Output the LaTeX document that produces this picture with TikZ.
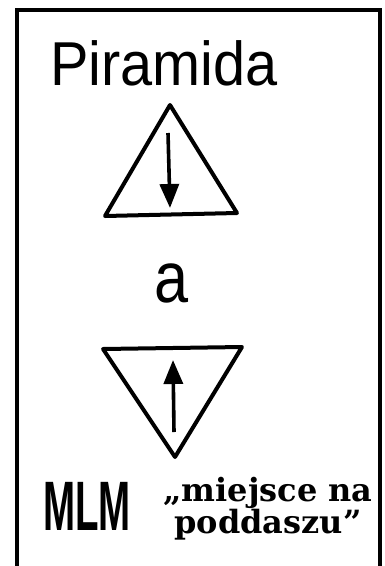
\documentclass[tikz,border=0pt]{standalone}
\usepackage{fontspec}
\setmainfont{Liberation Sans}
\newfontfamily\slabfont{DejaVu Serif}
\usetikzlibrary{arrows.meta}

\begin{document}
\begin{tikzpicture}[
    x=1pt, y=-1pt,
    frame/.style={line width=3.6pt},
    tri/.style={line width=4pt, line join=round},
    arrow/.style={line width=3.6pt, -{Triangle[length=24pt, width=19pt]}},
    hand/.style={inner sep=0pt, font=\fontsize{62}{62}\selectfont},
    slab/.style={inner sep=0pt, align=center, font=\slabfont\bfseries\fontsize{32}{31}\selectfont}
  ]
  \useasboundingbox (0,0) rectangle (385,566);

  % Frame (open at the bottom)
  \draw[frame] (17,566) -- (17,10) -- (380,10) -- (380,566);

  % Nodes
  \node[hand, anchor=base west, xscale=0.93] (title) at (50,85) {Piramida};
  \node[hand, anchor=base, xscale=0.85, font=\fontsize{72}{72}\selectfont] (and) at (172,302) {a};
  \node[hand, anchor=base west, xscale=0.55, font=\bfseries\fontsize{70}{70}\selectfont] (mlm) at (43,530) {MLM};
  \node[slab, anchor=north] (attic) at (268,477) {„miejsce na\\poddaszu”};

  % Triangle pointing up
  \coordinate (up-top) at (170,105);
  \coordinate (up-left) at (105,216);
  \coordinate (up-right) at (237,213);
  \draw[tri] (up-top) -- (up-left) -- (up-right) -- cycle;

  % Triangle pointing down
  \coordinate (dn-left) at (103,349);
  \coordinate (dn-right) at (242,347);
  \coordinate (dn-bottom) at (175,457);
  \draw[tri] (dn-left) -- (dn-right) -- (dn-bottom) -- cycle;

  % Arrows
  \coordinate (down-tail) at (168,133);
  \coordinate (down-tip) at (170,208);
  \coordinate (rise-tail) at (174,432);
  \coordinate (rise-tip) at (173,360);
  \draw[arrow] (down-tail) -- (down-tip);
  \draw[arrow] (rise-tail) -- (rise-tip);

\end{tikzpicture}
\end{document}
